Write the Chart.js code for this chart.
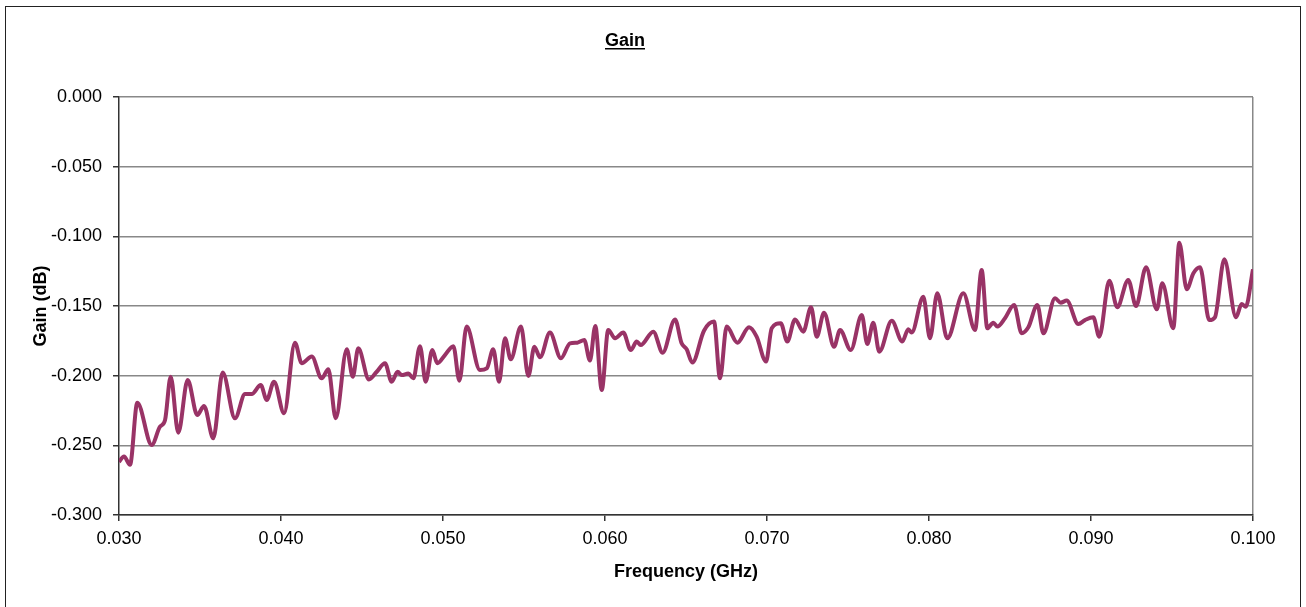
<!DOCTYPE html>
<html lang="en">
<head>
    <meta charset="UTF-8" />
    <title>Gain</title>
    <script src="https://cdn.jsdelivr.net/npm/chart.js"></script>
    <style>
        body {
          margin: 0;
          background: #fff;
          font-family: "Liberation Sans", Arial, sans-serif;
          overflow: hidden;
        }

        .chart-container {
          position: relative;
          width: 1306px;
          height: 607px;
        }

        .frame {
          position: absolute;
          left: 5px;
          top: 6px;
          width: 1294px;
          height: 700px;
          border: 1.5px solid #222;
          pointer-events: none;
        }
    </style>
</head>
<body>

<div class="chart-container">
    <canvas id="gainChart"></canvas>
    <div class="frame"></div>
</div>

<script>
    // Frequency (GHz)
    const freqGHz = [
      0.03000, 0.03031, 0.03068, 0.03113, 0.03202, 0.03253, 0.03284, 0.03319, 0.03366, 0.03424,
      0.03483, 0.03525, 0.03582, 0.03640, 0.03716, 0.03778, 0.03819, 0.03875, 0.03912, 0.03957,
      0.04019, 0.04086, 0.04128, 0.04190, 0.04251, 0.04292, 0.04338, 0.04406, 0.04443, 0.04477,
      0.04543, 0.04591, 0.04642, 0.04683, 0.04720, 0.04745, 0.04786, 0.04817, 0.04858, 0.04893,
      0.04934, 0.04965, 0.05012, 0.05064, 0.05101, 0.05146, 0.05228, 0.05270, 0.05310, 0.05346,
      0.05383, 0.05418, 0.05481, 0.05527, 0.05564, 0.05599, 0.05660, 0.05728, 0.05784, 0.05829,
      0.05872, 0.05907, 0.05940, 0.05980, 0.06020, 0.06062, 0.06113, 0.06159, 0.06196, 0.06220,
      0.06298, 0.06356, 0.06432, 0.06473, 0.06504, 0.06539, 0.06611, 0.06673, 0.06710, 0.06751,
      0.06817, 0.06889, 0.06936, 0.06994, 0.07029, 0.07085, 0.07125, 0.07173, 0.07224, 0.07272,
      0.07307, 0.07352, 0.07414, 0.07451, 0.07517, 0.07585, 0.07619, 0.07656, 0.07693, 0.07770,
      0.07835, 0.07872, 0.07893, 0.07965, 0.08006, 0.08051, 0.08113, 0.08212, 0.08284, 0.08325,
      0.08360, 0.08397, 0.08422, 0.08469, 0.08525, 0.08572, 0.08613, 0.08669, 0.08706, 0.08778,
      0.08813, 0.08850, 0.08922, 0.08963, 0.09014, 0.09051, 0.09113, 0.09162, 0.09230, 0.09278,
      0.09340, 0.09406, 0.09440, 0.09508, 0.09545, 0.09591, 0.09632, 0.09673, 0.09730, 0.09765,
      0.09823, 0.09895, 0.09930, 0.09955, 0.10000
    ];

    // Gain (dB)
    const gainDb = [
      -0.2618, -0.2580, -0.2640, -0.2194, -0.2497, -0.2366, -0.2320, -0.2008, -0.2409, -0.2031,
      -0.2282, -0.2218, -0.2450, -0.1978, -0.2306, -0.2132, -0.2132, -0.2067, -0.2175, -0.2043,
      -0.2270, -0.1763, -0.1911, -0.1863, -0.2019, -0.1954, -0.2306, -0.1811, -0.2008, -0.1804,
      -0.2027, -0.1972, -0.1911, -0.2043, -0.1972, -0.1996, -0.1984, -0.2019, -0.1788, -0.2043,
      -0.1816, -0.1911, -0.1852, -0.1788, -0.2036, -0.1648, -0.1960, -0.1948, -0.1811, -0.2043,
      -0.1732, -0.1883, -0.1648, -0.2003, -0.1792, -0.1868, -0.1691, -0.1875, -0.1768, -0.1763,
      -0.1744, -0.1892, -0.1643, -0.2103, -0.1672, -0.1732, -0.1691, -0.1816, -0.1755, -0.1780,
      -0.1684, -0.1835, -0.1596, -0.1768, -0.1811, -0.1906, -0.1677, -0.1612, -0.2019, -0.1648,
      -0.1763, -0.1653, -0.1720, -0.1899, -0.1660, -0.1624, -0.1755, -0.1596, -0.1684, -0.1509,
      -0.1720, -0.1548, -0.1792, -0.1672, -0.1816, -0.1565, -0.1773, -0.1620, -0.1828, -0.1606,
      -0.1755, -0.1667, -0.1691, -0.1433, -0.1732, -0.1409, -0.1732, -0.1409, -0.1672, -0.1242,
      -0.1660, -0.1620, -0.1648, -0.1588, -0.1493, -0.1696, -0.1653, -0.1493, -0.1696, -0.1445,
      -0.1476, -0.1461, -0.1629, -0.1601, -0.1581, -0.1720, -0.1318, -0.1509, -0.1313, -0.1500,
      -0.1222, -0.1524, -0.1337, -0.1660, -0.1046, -0.1380, -0.1265, -0.1222, -0.1601, -0.1581,
      -0.1165, -0.1581, -0.1486, -0.1505, -0.1237
    ];

    // axis ranges / ticks
    const xTicks = { min: 0.03, max: 0.1, step: 0.01 };
    const yTicks = { min: -0.3, max: 0, step: 0.05 };

    const chartTitle = 'Gain';
    const xTitle = 'Frequency (GHz)';
    const yTitle = 'Gain (dB)';

    const points = freqGHz.map((f, i) => ({ x: f, y: gainDb[i] }));

    // Underlined title, Excel style
    const titlePlugin = {
      id: 'underlinedTitle',
      afterDraw(chart) {
        const ctx = chart.ctx;
        ctx.save();
        ctx.font = 'bold 18px "Liberation Sans", Arial, sans-serif';
        ctx.fillStyle = '#000';
        ctx.textAlign = 'center';
        ctx.textBaseline = 'alphabetic';
        const cx = 625;
        ctx.fillText(chartTitle, cx, 46);
        const w = ctx.measureText(chartTitle).width;
        ctx.fillRect(cx - w / 2, 48, w, 1.5);
        ctx.restore();
      }
    };

    const ctx = document.getElementById('gainChart').getContext('2d');

    new Chart(ctx, {
      type: 'line',
      data: {
        datasets: [{
          label: 'Gain',
          data: points,
          borderColor: '#993366',
          borderWidth: 4,
          pointRadius: 0,
          fill: false,
          cubicInterpolationMode: 'monotone'
        }]
      },
      options: {
        responsive: true,
        maintainAspectRatio: false,
        animation: false,
        layout: { padding: { left: 0, top: 97, right: 53, bottom: 0 } },
        plugins: {
          legend: { display: false },
          tooltip: { enabled: false }
        },
        scales: {
          x: {
            type: 'linear',
            min: xTicks.min,
            max: xTicks.max,
            afterFit: s => { s.height = 92; },
            ticks: {
              stepSize: xTicks.step,
              color: '#000',
              padding: 7,
              maxRotation: 0,
              font: { family: '"Liberation Sans", Arial', size: 18 },
              callback: v => v.toFixed(3)
            },
            grid: {
              color: c => (c.tick && Math.abs(c.tick.value - xTicks.max) < 1e-9) ? '#888' : 'rgba(0,0,0,0)',
              lineWidth: 1.5,
              tickLength: 6,
              tickColor: '#333'
            },
            border: { color: '#333', width: 1.5 },
            title: {
              display: true,
              text: xTitle,
              color: '#000',
              padding: { top: 0, bottom: 24 },
              font: { family: '"Liberation Sans", Arial', size: 18, weight: 'bold' }
            }
          },
          y: {
            min: yTicks.min,
            max: yTicks.max,
            afterFit: s => { s.width = 119; },
            ticks: {
              stepSize: yTicks.step,
              color: '#000',
              padding: 11,
              font: { family: '"Liberation Sans", Arial', size: 18 },
              callback: v => v.toFixed(3)
            },
            grid: {
              color: '#888',
              lineWidth: 1.5,
              tickLength: 6,
              tickColor: '#333'
            },
            border: { color: '#333', width: 1.5 },
            title: {
              display: true,
              text: yTitle,
              color: '#000',
              padding: { top: 30, bottom: 0 },
              font: { family: '"Liberation Sans", Arial', size: 18, weight: 'bold' }
            }
          }
        }
      },
      plugins: [titlePlugin]
    });
</script>

</body>
</html>
